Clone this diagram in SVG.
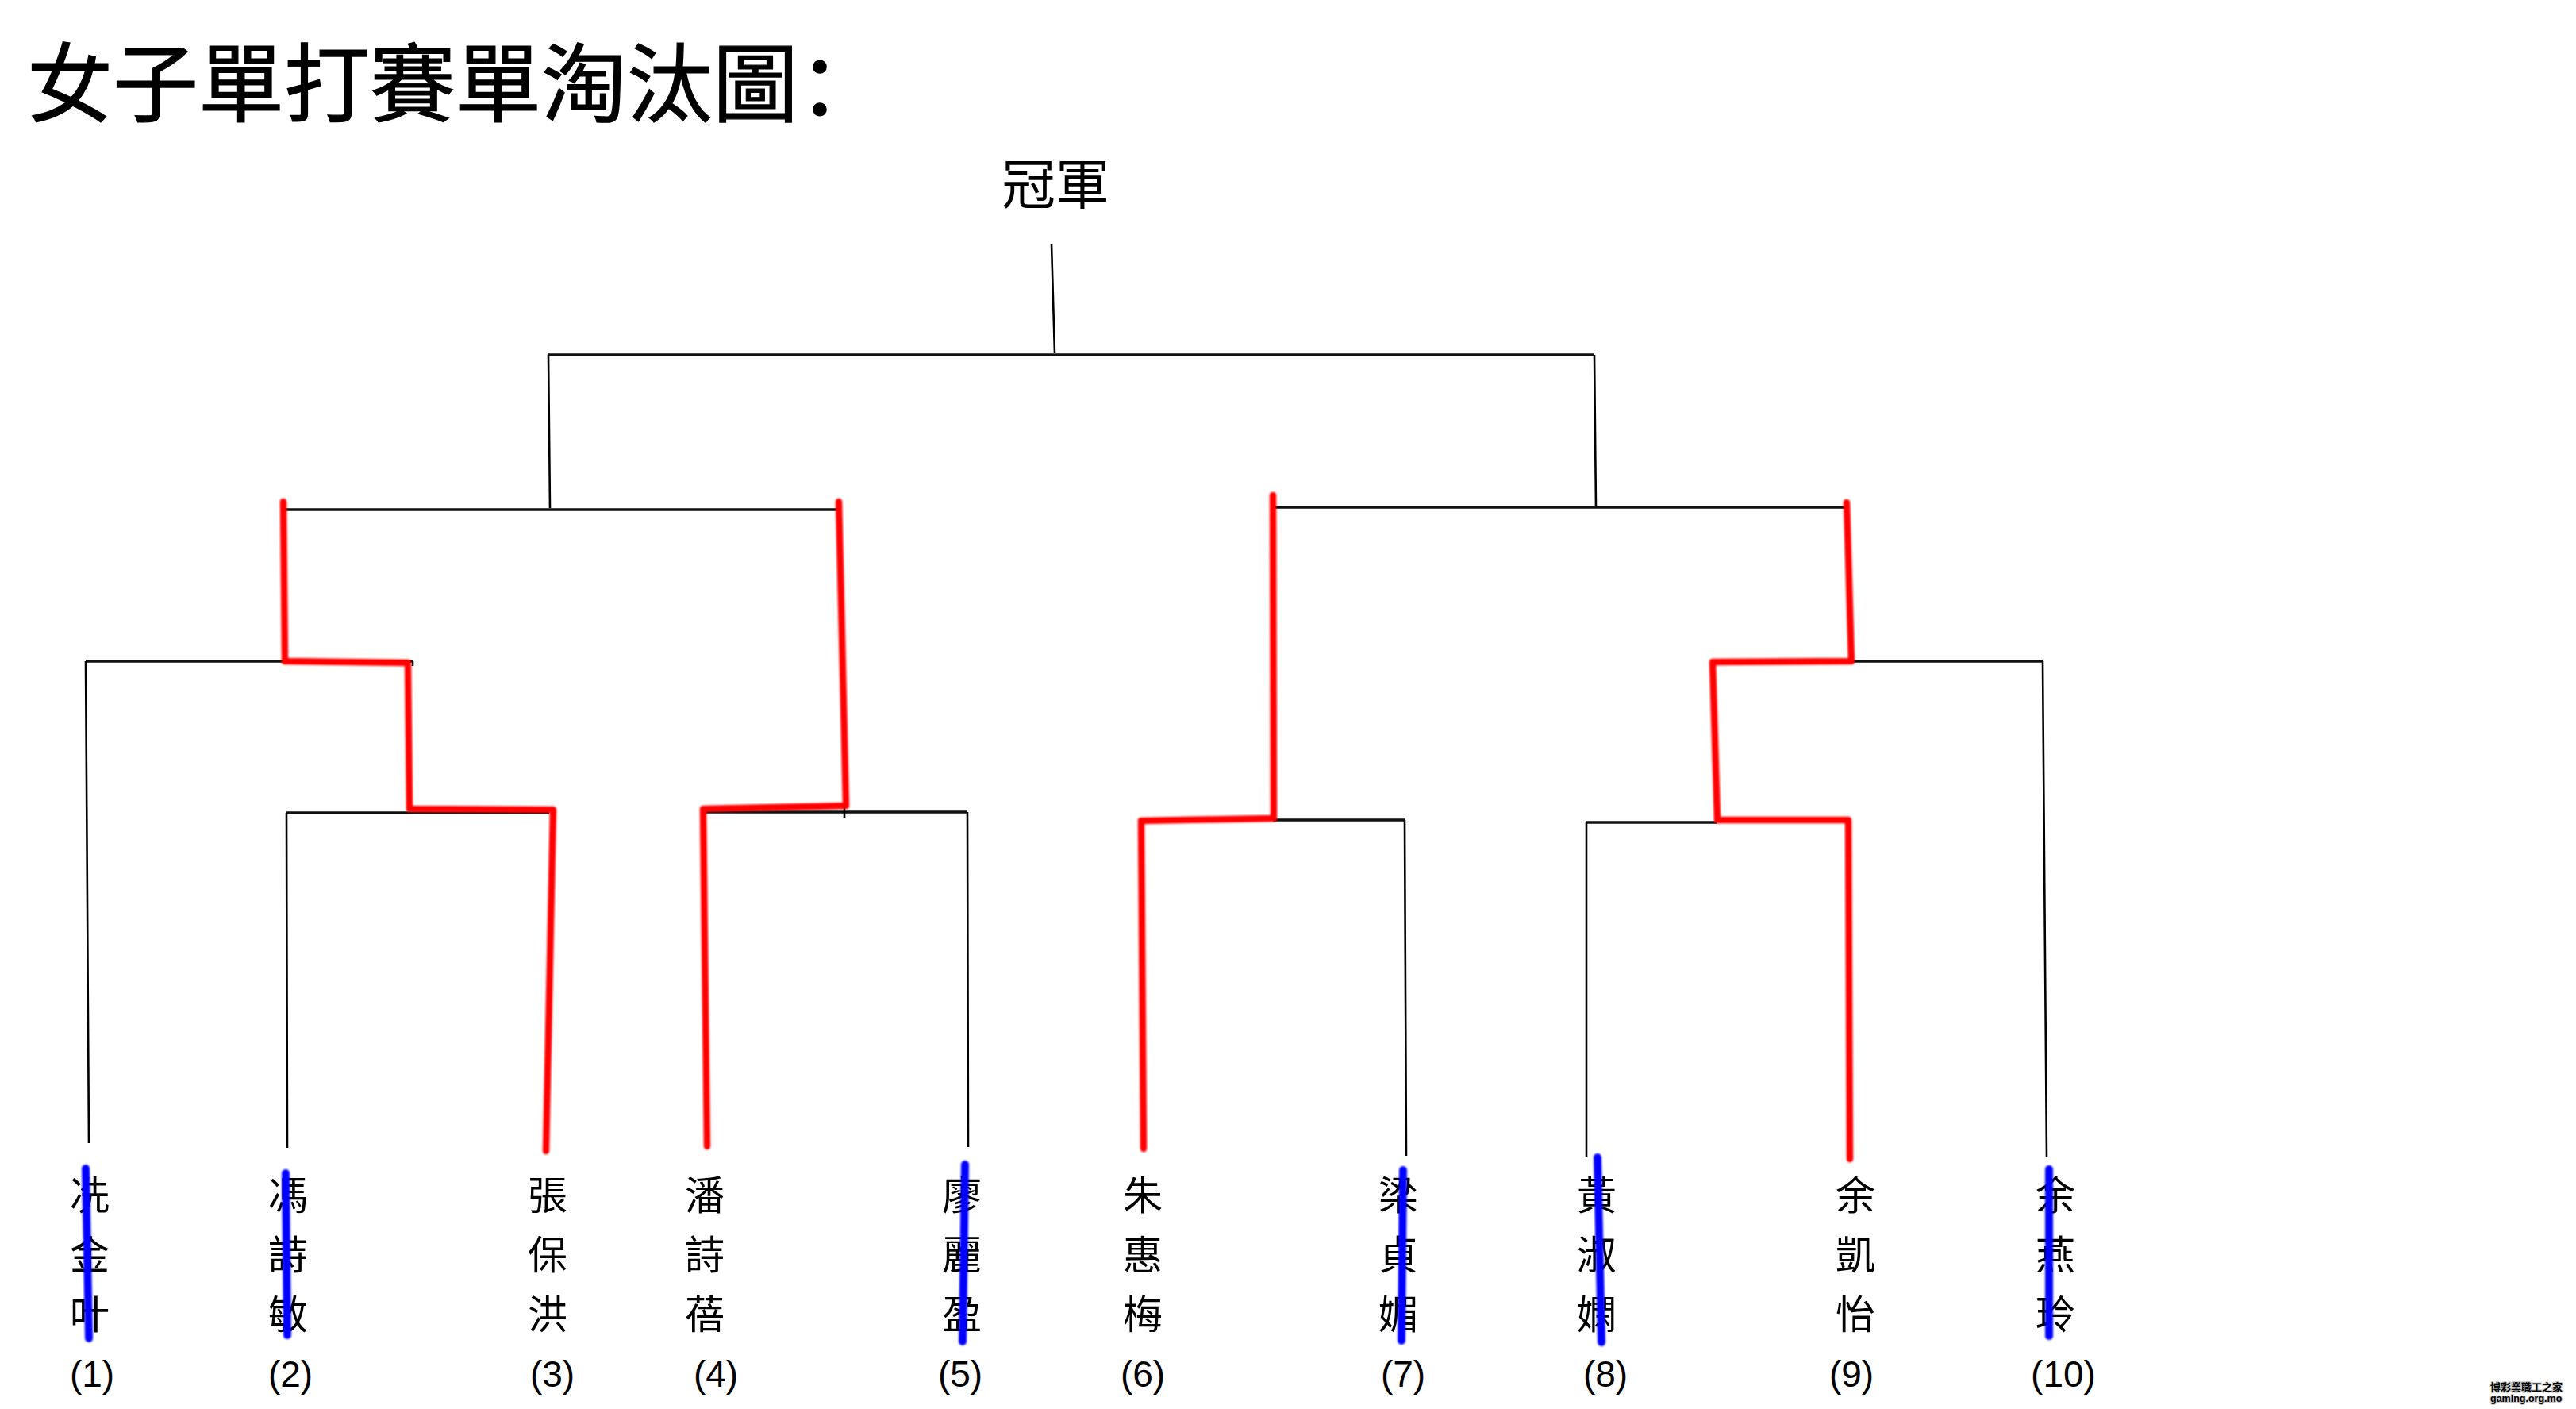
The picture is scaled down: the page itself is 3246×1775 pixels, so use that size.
<svg xmlns="http://www.w3.org/2000/svg" width="3246" height="1775" viewBox="0 0 3246 1775">
<style>
.cjk{font-family:"Noto Sans CJK TC","Noto Sans CJK SC",sans-serif;fill:#000}
.title{font-size:108px;stroke:#000;stroke-width:1.2}
.champ{font-size:68px;text-anchor:middle}
.name{font-size:50px;text-anchor:middle}
.num{font-family:"Liberation Sans",Arial,sans-serif;font-size:46px;text-anchor:middle;fill:#000}
.blk{fill:none;stroke:#000;stroke-width:2.6;stroke-linecap:butt}
.blkh{fill:none;stroke:#111;stroke-width:3.4}
.red{fill:none;stroke:#ff0000;stroke-width:8.5;stroke-linejoin:round;stroke-linecap:round}
.blue{fill:none;stroke:#0000ff;stroke-width:10;stroke-linecap:round}
.wm{font-weight:bold;fill:#000;stroke:#c8c8c8;stroke-width:2;paint-order:stroke}
</style>
<defs>
<filter id="soft" x="-20%" y="-5%" width="140%" height="110%"><feGaussianBlur stdDeviation="0.9"/></filter>
</defs>
<rect width="3246" height="1775" fill="#ffffff"/>
<g id="title"><text class="cjk title" x="34" y="145">女子單打賽單淘汰圖<tspan font-family="Noto Sans CJK SC, sans-serif">：</tspan></text></g>
<g id="champion"><text class="cjk champ" x="1330" y="257">冠軍</text></g>
<g id="connectors">
<path class="blk" d="M1325,308 L1329,445"/>
<path class="blkh" d="M691,447 L2009,447"/>
<path class="blk" d="M691,447 L693,640 M2009,447 L2011,640"/>
<path class="blkh" d="M357,642 L1057,642 M1604,639 L2327,639"/>
<path class="blkh" d="M108,833 L520,833 M361,1024 L692,1024 M886,1023 L1219,1023 M1604,1033 L1770,1033 M2333,833 L2574,833 M1999,1036 L2164,1036"/>
<path class="blk" d="M520,833 L520,839 M1064,1013 L1064,1030"/>
<path class="blk" d="M108,833 L112,1440 M361,1024 L362,1446 M1219,1023 L1220,1445 M1770,1033 L1772,1456 M2574,833 L2579,1458 M1999,1036 L1999,1458"/>
<g filter="url(#soft)">
<path class="red" d="M357,632 L359,833 L514,835 L516,1019 L697,1020 L688,1450"/>
<path class="red" d="M1057,632 L1066,1015 L886,1019 L891,1444"/>
<path class="red" d="M1604,624 L1605,1031 L1438,1034 L1441,1447"/>
<path class="red" d="M2327,633 L2333,833 L2158,834 L2164,1033 L2329,1033 L2331,1460"/>
</g>
</g>
<g id="p1"><text class="cjk name" x="113" y="1524">冼<tspan x="113" y="1599">金</tspan><tspan x="113" y="1674">叶</tspan></text><text class="num" x="116" y="1747">(1)</text></g>
<g id="p2"><text class="cjk name" x="363" y="1524">馮<tspan x="363" y="1599">詩</tspan><tspan x="363" y="1674">敏</tspan></text><text class="num" x="366" y="1747">(2)</text></g>
<g id="p3"><text class="cjk name" x="690" y="1524">張<tspan x="690" y="1599">保</tspan><tspan x="690" y="1674">洪</tspan></text><text class="num" x="696" y="1747">(3)</text></g>
<g id="p4"><text class="cjk name" x="888" y="1524">潘<tspan x="888" y="1599">詩</tspan><tspan x="888" y="1674">蓓</tspan></text><text class="num" x="902" y="1747">(4)</text></g>
<g id="p5"><text class="cjk name" x="1212" y="1524">廖<tspan x="1212" y="1599">麗</tspan><tspan x="1212" y="1674">盈</tspan></text><text class="num" x="1210" y="1747">(5)</text></g>
<g id="p6"><text class="cjk name" x="1440" y="1524">朱<tspan x="1440" y="1599">惠</tspan><tspan x="1440" y="1674">梅</tspan></text><text class="num" x="1440" y="1747">(6)</text></g>
<g id="p7"><text class="cjk name" x="1762" y="1524">梁<tspan x="1762" y="1599">貞</tspan><tspan x="1762" y="1674">媚</tspan></text><text class="num" x="1768" y="1747">(7)</text></g>
<g id="p8"><text class="cjk name" x="2012" y="1524">黃<tspan x="2012" y="1599">淑</tspan><tspan x="2012" y="1674">嫻</tspan></text><text class="num" x="2023" y="1747">(8)</text></g>
<g id="p9"><text class="cjk name" x="2338" y="1524">余<tspan x="2338" y="1599">凱</tspan><tspan x="2338" y="1674">怡</tspan></text><text class="num" x="2333" y="1747">(9)</text></g>
<g id="p10"><text class="cjk name" x="2590" y="1524">余<tspan x="2590" y="1599">燕</tspan><tspan x="2590" y="1674">玲</tspan></text><text class="num" x="2600" y="1747">(10)</text></g>
<g id="eliminated" filter="url(#soft)">
<path class="blue" d="M108,1472 L112,1686"/>
<path class="blue" d="M360,1478 L362,1682"/>
<path class="blue" d="M1216,1467 L1213,1690"/>
<path class="blue" d="M1768,1474 L1766,1689"/>
<path class="blue" d="M2013,1458 L2018,1691"/>
<path class="blue" d="M2582,1473 L2582,1683"/>
</g>
<g id="watermark">
<text class="wm" x="3138" y="1752" font-family="Noto Sans CJK TC, sans-serif" font-size="13">博彩業職工之家</text>
<text class="wm" x="3138" y="1766" font-family="Liberation Sans, Arial, sans-serif" font-size="12.5">gaming.org.mo</text>
</g>
</svg>
